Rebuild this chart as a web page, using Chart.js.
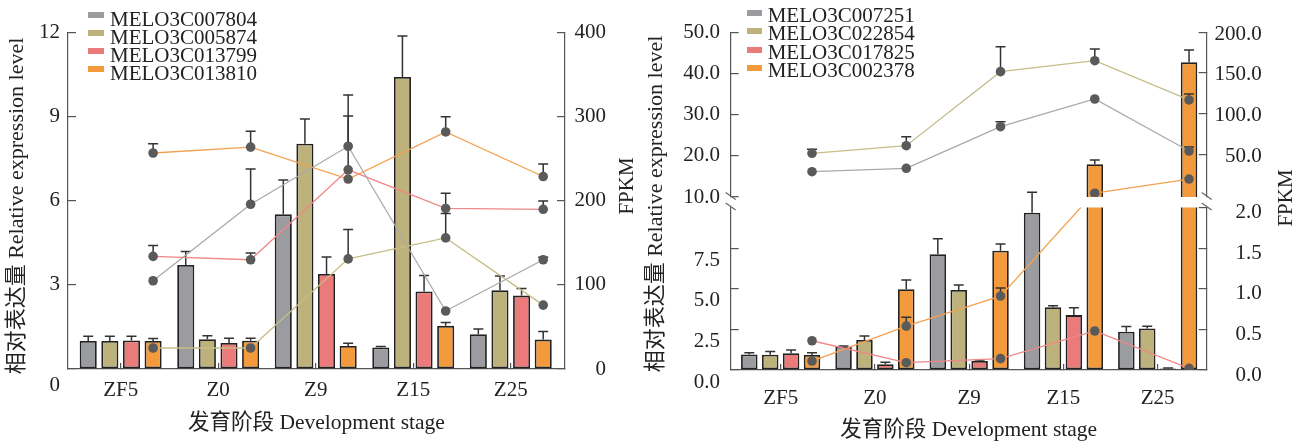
<!DOCTYPE html>
<html>
<head>
<meta charset="utf-8">
<script src="https://cdn.jsdelivr.net/npm/chart.js@4.4.1/dist/chart.umd.min.js"></script>
<style>
  body { margin: 0; background: #fff; }
  #wrap { position: relative; width: 1303px; height: 444px; overflow: hidden; }
  .panel { position: absolute; top: 0; height: 444px; }
  #panelA { left: 0; width: 640px; }
  #panelB { left: 640px; width: 663px; }
  .legend { position: absolute; font: 21px 'Liberation Serif', serif; color: #222; }
  .legend div { position: relative; height: 18.2px; line-height: 18.2px; white-space: nowrap; }
  .legend .swatch { position: absolute; left: 0; height: 6px; }
  .legend .name { position: absolute; }
  #legendA { left: 88px; top: 9.6px; }
  #legendA .swatch { top: 2.3px; width: 16px; }
  #legendA .name { left: 22px; }
  #legendB { left: 106.7px; top: 6.3px; }
  #legendB .swatch { top: 4px; width: 15px; }
  #legendB .name { left: 21px; }
</style>
</head>
<body>
<div id="wrap">
  <div class="panel" id="panelA">
    <canvas id="chartA" width="640" height="444"></canvas>
    <div class="legend" id="legendA"></div>
  </div>
  <div class="panel" id="panelB">
    <canvas id="chartB" width="663" height="444"></canvas>
    <div class="legend" id="legendB"></div>
  </div>
</div>
<script>
// development stages

const stages = ['ZF5', 'Z0', 'Z9', 'Z15', 'Z25'];

// left panel: relative expression (bars) and FPKM (lines)

const genesA = ['MELO3C007804', 'MELO3C005874', 'MELO3C013799', 'MELO3C013810'];

const relA = [
  [1.0, 3.71, 5.52, 0.77, 1.24],
  [1.0, 1.06, 8.04, 10.42, 2.81],
  [1.02, 0.93, 3.39, 2.77, 2.62],
  [1.0, 1.01, 0.82, 1.54, 1.05]
];
const relErrA = [
  [0.17, 0.48, 1.23, 0.03, 0.19],
  [0.17, 0.13, 0.88, 1.47, 0.51],
  [0.15, 0.17, 0.61, 0.57, 0.25],
  [0.09, 0.09, 0.10, 0.12, 0.29]
];
const fpkmA = [
  [105, 196, 265, 69, 130],
  [25, 25, 131, 156, 76],
  [134, 130, 237, 191, 190],
  [257, 264, 226, 282, 229]
];
const fpkmErrA = [
  [0, 42, 61, 0, 3],
  [0, 0, 35, 29, 0],
  [13, 8, 64, 18, 10],
  [11, 19, 0, 18, 15]
];

const relTicksA = [0, 3, 6, 9, 12];
const fpkmTicksA = [0, 100, 200, 300, 400];

// right panel (broken axes)

const genesB = ['MELO3C007251', 'MELO3C022854', 'MELO3C017825', 'MELO3C002378'];

const relB = [
  [0.96, 1.43, 7.12, 9.68, 2.36],
  [0.94, 1.85, 4.92, 3.86, 2.56],
  [1.03, 0.35, 0.55, 3.38, 0.1],
  [0.92, 4.97, 7.34, 17.94, 42.7]
];
const relErrB = [
  [0.1, 0.04, 0.96, 1.26, 0.31],
  [0.2, 0.25, 0.31, 0.1, 0.14],
  [0.2, 0.12, 0.06, 0.45, 0.02],
  [0.14, 0.57, 0.41, 1.05, 3.0]
];
const fpkmB = [
  [28.6, 32.8, 83.9, 118.0, 54.0],
  [51.2, 60.6, 151.6, 165.1, 116.8],
  [0.36, 0.09, 0.14, 0.48, 0.02],
  [0.11, 0.54, 0.91, 2.19, 19.6]
];
const fpkmErrB = [
  [0, 0, 6.2, 0, 5],
  [4.9, 11, 30.7, 14.4, 7.3],
  [0, 0, 0, 0, 0],
  [0, 0.11, 0.1, 0, 0]
];

const relLoTicksB = [0, 2.5, 5, 7.5];
const relHiTicksB = [10, 20, 30, 40, 50];
const fpkmLoTicksB = [0, 0.5, 1, 1.5, 2];
const fpkmHiTicksB = [50, 100, 150, 200];

const barColors = ['#9b9ca0', '#bdb27b', '#eb7a7a', '#f39a3d'];
const lineColors = ['#a9a9a9', '#c7bd87', '#ef8888', '#f3a14f'];

Chart.defaults.font.family = "'Liberation Serif', 'Noto Sans CJK SC', serif";
Chart.defaults.font.size = 21;
Chart.defaults.color = '#222';

const catPct = 0.887;
const barPct = 0.79;
// dots sit over the 4th bar of each group
const dotShift = 0.375 * catPct;

function barSet(label, values, errs, color, axis, stack) {
  return {
    type: 'bar',
    label: label,
    yAxisID: axis,
    stack: stack,
    order: 1,
    data: values.map((v, i) => ({ x: i, y: v })),
    errors: errs,
    backgroundColor: color,
    borderColor: '#222',
    borderWidth: 1.8,
    borderSkipped: false,
    categoryPercentage: catPct,
    barPercentage: barPct
  };
}

function lineSet(label, values, errs, color, axis) {
  return {
    type: 'line',
    label: label,
    yAxisID: axis,
    order: 0,
    data: values.map((v, i) => ({ x: i + dotShift, y: v })),
    errors: errs,
    borderColor: color,
    borderWidth: 1.3,
    pointRadius: 4.8,
    pointHoverRadius: 4.8,
    pointBackgroundColor: '#5a5a5a',
    pointBorderWidth: 0
  };
}

function stageAxis(min, max, height, pad, titlePad) {
  return {
    type: 'linear',
    position: 'bottom',
    min: min,
    max: max,
    offset: false,
    afterBuildTicks: s => { s.ticks = stages.map((_, i) => ({ value: i })); },
    afterFit: s => { s.height = height; },
    ticks: { callback: v => stages[v], padding: pad, autoSkip: false, maxRotation: 0, color: '#222' },
    grid: { offset: false, drawOnChartArea: false, tickLength: -6, color: '#555', lineWidth: 1.2 },
    border: { color: '#555', width: 1.2 },
    title: {
      display: true,
      text: '发育阶段 Development stage',
      font: { size: 21.5 },
      color: '#222',
      padding: { top: 0, bottom: titlePad }
    }
  };
}

function valueAxis(o) {
  return {
    type: 'linear',
    position: o.side,
    min: o.min,
    max: o.max,
    stack: o.stack,
    stackWeight: o.stackWeight,
    weight: o.order || 0,
    stacked: false,
    afterBuildTicks: s => { s.ticks = o.ticks.map(v => ({ value: v })); },
    afterFit: s => { s.width = o.width; },
    ticks: {
      callback: o.format,
      padding: o.pad || 0,
      labelOffset: o.shift || 0,
      crossAlign: o.side === 'right' ? 'far' : 'near',
      autoSkip: false,
      color: '#222',
      font: { size: 21, lineHeight: o.lineHeight || 1.2 }
    },
    grid: { drawOnChartArea: false, tickLength: -8, color: '#555', lineWidth: 1.2 },
    border: { color: '#555', width: 1.2 }
  };
}

function gapAxis(side, stack, order, weight, width) {
  return {
    type: 'linear',
    position: side,
    min: 0,
    max: 1,
    stack: stack,
    stackWeight: weight,
    weight: order,
    afterBuildTicks: s => { s.ticks = []; },
    afterFit: s => { s.width = width; },
    ticks: { display: false },
    grid: { display: false },
    border: { display: false }
  };
}

// error bars, drawn from the data through each dataset's own value scale

function drawErrors(chart, meta) {
  const ds = chart.data.datasets[meta.index];
  if (!ds.errors) return;
  const scale = meta.vScale;
  const ctx = chart.ctx;
  ctx.save();
  ctx.strokeStyle = '#333';
  ctx.lineWidth = 1.5;
  meta.data.forEach((el, i) => {
    const v = ds.data[i].y;
    const e = ds.errors[i];
    if (v === null || !e || v < scale.min || v > scale.max) return;
    const top = scale.getPixelForValue(v + e);
    ctx.beginPath();
    ctx.moveTo(el.x, scale.getPixelForValue(v));
    ctx.lineTo(el.x, top);
    ctx.moveTo(el.x - 5, top);
    ctx.lineTo(el.x + 5, top);
    ctx.stroke();
  });
  ctx.restore();
}

const errorBars = {
  id: 'errorBars',
  beforeDatasetDraw(chart, args) {
    if (args.meta.type === 'line') drawErrors(chart, args.meta);
  },
  afterDatasetDraw(chart, args) {
    if (args.meta.type === 'bar') drawErrors(chart, args.meta);
  }
};

// rotated side titles (FPKM reads bottom to top on the right too)

const sideTitles = {
  id: 'sideTitles',
  afterDraw(chart, args, opts) {
    const ctx = chart.ctx;
    (opts.items || []).forEach(t => {
      ctx.save();
      ctx.fillStyle = '#222';
      ctx.font = t.size + "px 'Liberation Serif', 'Noto Sans CJK SC', serif";
      ctx.textAlign = 'center';
      ctx.textBaseline = 'middle';
      ctx.translate(t.x, t.y);
      ctx.rotate(-Math.PI / 2);
      ctx.fillText(t.text, 0, 0);
      ctx.restore();
    });
  }
};

// axis break slashes on the gap scales

const breakMarks = {
  id: 'breakMarks',
  afterDraw(chart, args, opts) {
    const ctx = chart.ctx;
    (opts.axes || []).forEach(id => {
      const s = chart.scales[id];
      const x = s.position === 'left' ? s.right : s.left;
      ctx.save();
      ctx.strokeStyle = '#666';
      ctx.lineWidth = 1.2;
      [s.top - 1, s.bottom - 1].forEach(y => {
        ctx.beginPath();
        ctx.moveTo(x - 5, y - 3.4);
        ctx.lineTo(x + 5, y + 3.4);
        ctx.stroke();
      });
      ctx.restore();
    });
  }
};

function buildLegend(el, names, colors) {
  names.forEach((name, i) => {
    const row = document.createElement('div');
    row.innerHTML = `<span class="swatch" style="background:${colors[i]}"></span><span class="name">${name}</span>`;
    el.appendChild(row);
  });
}

// left chart

const setsA = [];
genesA.forEach((g, k) => setsA.push(barSet(g, relA[k], relErrA[k], barColors[k], 'y')));
genesA.forEach((g, k) => setsA.push(lineSet(g, fpkmA[k], fpkmErrA[k], lineColors[k], 'y2')));

const chartA = new Chart(document.getElementById('chartA'), {
  type: 'bar',
  data: { datasets: setsA },
  options: {
    responsive: false,
    animation: false,
    events: [],
    layout: { padding: { top: 32, right: 34, left: 0, bottom: 0 } },
    scales: {
      x: stageAxis(-0.54, 4.556, 75, 14.4, 8.1),
      y: valueAxis({ side: 'left', min: 0, max: 12, ticks: relTicksA, width: 68, pad: 16, lineHeight: 1.6,
        format: v => v === 0 ? ['', '0'] : String(v) }),
      y2: valueAxis({ side: 'right', min: 0, max: 400, ticks: fpkmTicksA, width: 41,
        format: v => String(v) })
    },
    plugins: {
      legend: { display: false },
      tooltip: { enabled: false },
      sideTitles: { items: [
        { text: '相对表达量 Relative expression level', x: 17, y: 206, size: 22 },
        { text: 'FPKM', x: 627.5, y: 186, size: 21 }
      ] }
    }
  },
  plugins: [errorBars, sideTitles]
});

// right chart: each series drawn on the lower and the upper part of the broken axes

const fpkmLoMax = 2;
const setsB = [];
genesB.forEach((g, k) => setsB.push(barSet(g, relB[k], relErrB[k], barColors[k], 'relLo', 'g' + k)));
genesB.forEach((g, k) => setsB.push(barSet(g, relB[k], relErrB[k], barColors[k], 'relHi', 'g' + k)));
genesB.forEach((g, k) => setsB.push(lineSet(g, fpkmB[k], fpkmErrB[k], lineColors[k], 'fpkmLo')));
genesB.forEach((g, k) => setsB.push(lineSet(g, fpkmB[k].map(v => v >= fpkmLoMax ? v : null),
  fpkmErrB[k], lineColors[k], 'fpkmHi')));

const oneDecimal = v => v.toFixed(1);

const chartB = new Chart(document.getElementById('chartB'), {
  type: 'bar',
  data: { datasets: setsB },
  options: {
    responsive: false,
    animation: false,
    events: [],
    layout: { padding: { top: 32.3, right: 41.3, left: 0, bottom: 0 } },
    scales: {
      x: stageAxis(-0.53, 4.52, 74, 21.7, 1.1),
      relHi: valueAxis({ side: 'left', stack: 'rel', order: 3, stackWeight: 164.7, min: 10, max: 50,
        ticks: relHiTicksB, width: 90.7, pad: 18.7, format: oneDecimal }),
      relGap: gapAxis('left', 'rel', 2, 10.5, 90.7),
      relLo: valueAxis({ side: 'left', stack: 'rel', order: 1, stackWeight: 162.5, min: 0, max: 10,
        ticks: relLoTicksB, width: 90.7, pad: 18.7, shift: 12, format: oneDecimal }),
      fpkmHi: valueAxis({ side: 'right', stack: 'fpkm', order: 1, stackWeight: 164.7, min: -2.5, max: 200,
        ticks: fpkmHiTicksB, width: 55, shift: 2, format: oneDecimal }),
      fpkmGap: gapAxis('right', 'fpkm', 2, 10.5, 55),
      fpkmLo: valueAxis({ side: 'right', stack: 'fpkm', order: 3, stackWeight: 162.5, min: 0, max: fpkmLoMax,
        ticks: fpkmLoTicksB, width: 55, shift: 5, format: oneDecimal })
    },
    plugins: {
      legend: { display: false },
      tooltip: { enabled: false },
      sideTitles: { items: [
        { text: '相对表达量 Relative expression level', x: 16.7, y: 204, size: 22 },
        { text: 'FPKM', x: 646.7, y: 198, size: 21 }
      ] },
      breakMarks: { axes: ['relGap', 'fpkmGap'] }
    }
  },
  plugins: [errorBars, sideTitles, breakMarks]
});

buildLegend(document.getElementById('legendA'), genesA, barColors);
buildLegend(document.getElementById('legendB'), genesB, barColors);
</script>
</body>
</html>
